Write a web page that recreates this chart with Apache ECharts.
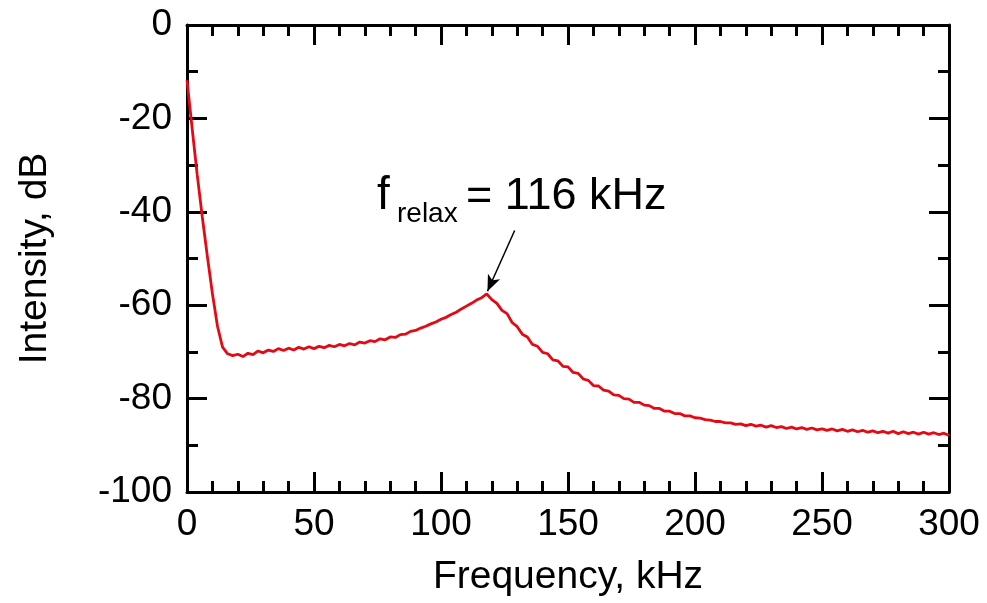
<!DOCTYPE html>
<html>
<head>
<meta charset="utf-8">
<script src="https://cdn.jsdelivr.net/npm/echarts@6/dist/echarts.min.js"></script>
<style>
html,body{margin:0;padding:0;background:#fff;}
#chart{width:987px;height:603px;}
</style>
</head>
<body>
<div id="chart"></div>
<script>
const freq = [0,2,4,6,8,10,12,14,16,18,20,22,24,26,28,30,32,34,36,38,40,42,44,46,48,50,52,54,56,58,60,62,64,66,68,70,72,74,76,78,80,82,84,86,88,90,92,94,96,98,100,102,104,106,108,110,112,114,116,118,120,122,124,126,128,130,132,134,136,138,140,142,144,146,148,150,152,154,156,158,160,162,164,166,168,170,172,174,176,178,180,182,184,186,188,190,192,194,196,198,200,202,204,206,208,210,212,214,216,218,220,222,224,226,228,230,232,234,236,238,240,242,244,246,248,250,252,254,256,258,260,262,264,266,268,270,272,274,276,278,280,282,284,286,288,290,292,294,296,298,300];
const intensity = [-11.8,-22,-32,-41,-49.5,-57.5,-64.5,-69,-70.4,-70.8,-70.5,-71,-70.3,-70.6,-69.8,-70.2,-69.6,-69.9,-69.3,-69.7,-69.2,-69.6,-69.0,-69.4,-68.9,-69.3,-68.8,-69.1,-68.6,-68.9,-68.4,-68.7,-68.2,-68.5,-67.9,-68.1,-67.6,-67.8,-67.2,-67.4,-66.8,-66.9,-66.3,-66.2,-65.6,-65.4,-64.9,-64.5,-64.0,-63.6,-63.0,-62.6,-62.0,-61.5,-60.8,-60.2,-59.6,-58.9,-58.4,-57.6,-58.8,-59.6,-61.1,-61.8,-63.7,-64.6,-66.2,-66.8,-68.4,-68.8,-70.1,-70.4,-71.7,-71.9,-73.1,-73.2,-74.4,-74.6,-75.8,-76.1,-77.2,-77.3,-78.2,-78.4,-79.2,-79.3,-80.0,-80.1,-80.8,-80.8,-81.4,-81.5,-82.1,-82.1,-82.7,-82.7,-83.2,-83.2,-83.7,-83.7,-84.1,-84.2,-84.5,-84.6,-84.9,-84.9,-85.2,-85.2,-85.5,-85.4,-85.8,-85.5,-85.9,-85.7,-86.1,-85.8,-86.2,-86.0,-86.4,-86.1,-86.5,-86.2,-86.6,-86.3,-86.7,-86.5,-86.8,-86.5,-86.9,-86.6,-87.0,-86.7,-87.1,-86.8,-87.2,-86.9,-87.3,-87.0,-87.4,-87.0,-87.5,-87.1,-87.5,-87.2,-87.6,-87.2,-87.6,-87.3,-87.7,-87.4,-87.9,-87.6];
const arrowTail = [129, -44];
const arrowHead = [118.3, -57.0];

const FONT = "'Liberation Sans', Arial, Helvetica, sans-serif";
const chart = echarts.init(document.getElementById('chart'), null, {renderer:'canvas'});

function xAx(pos, showLabel) {
  return {
    type:'value', min:0, max:300, interval:50, position:pos,
    axisLine:{show:true, onZero:false, lineStyle:{color:'#000', width:3}},
    axisTick:{show:true, inside:true, length:20, lineStyle:{color:'#000', width:3}},
    minorTick:{show:true, splitNumber:5, length:11, lineStyle:{color:'#000', width:3}},
    splitLine:{show:false}, minorSplitLine:{show:false},
    axisLabel:{show:showLabel, color:'#000', fontSize:37, fontFamily:FONT, margin:14},
    name: showLabel ? 'Frequency, kHz' : '',
    nameLocation:'middle', nameGap:66,
    nameTextStyle:{color:'#000', fontSize:39, fontFamily:FONT}
  };
}
function yAx(pos, showLabel) {
  return {
    type:'value', min:-100, max:0, interval:20, position:pos,
    axisLine:{show:true, onZero:false, lineStyle:{color:'#000', width:3}},
    axisTick:{show:true, inside:true, length:20, lineStyle:{color:'#000', width:3}},
    minorTick:{show:true, splitNumber:2, length:11, lineStyle:{color:'#000', width:3}},
    splitLine:{show:false}, minorSplitLine:{show:false},
    axisLabel:{show:showLabel, color:'#000', fontSize:37, fontFamily:FONT, margin:15},
    name: showLabel ? 'Intensity, dB' : '',
    nameLocation:'middle', nameGap:132, nameRotate:90,
    nameTextStyle:{color:'#000', fontSize:39, fontFamily:FONT}
  };
}

chart.setOption({
  animation:false,
  backgroundColor:'#fff',
  grid:{left:187, right:38, top:25, bottom:111, containLabel:false},
  xAxis:[xAx('bottom', true), xAx('top', false)],
  yAxis:[yAx('left', true), yAx('right', false)],
  series:[{
    type:'line',
    xAxisIndex:0, yAxisIndex:0,
    data: freq.map((f,i)=>[f, intensity[i]]),
    showSymbol:false,
    lineStyle:{color:'#e50914', width:2.8},
    z:1,
    markLine:{
      silent:true,
      symbol:['none','arrow'],
      symbolSize:[10,16],
      label:{show:false},
      lineStyle:{color:'#000', width:1.5, type:'solid'},
      data:[[{coord:arrowTail},{coord:arrowHead}]]
    }
  }],
  graphic:[
    {type:'text', left:377, top:173, style:{text:'f', fontSize:46, fontFamily:FONT, fill:'#000'}},
    {type:'text', left:397, top:200, style:{text:'relax', fontSize:28, fontFamily:FONT, fill:'#000'}},
    {type:'text', left:466, top:174, style:{text:'= 116 kHz', fontSize:45, fontFamily:FONT, fill:'#000'}}
  ]
});
</script>
</body>
</html>
